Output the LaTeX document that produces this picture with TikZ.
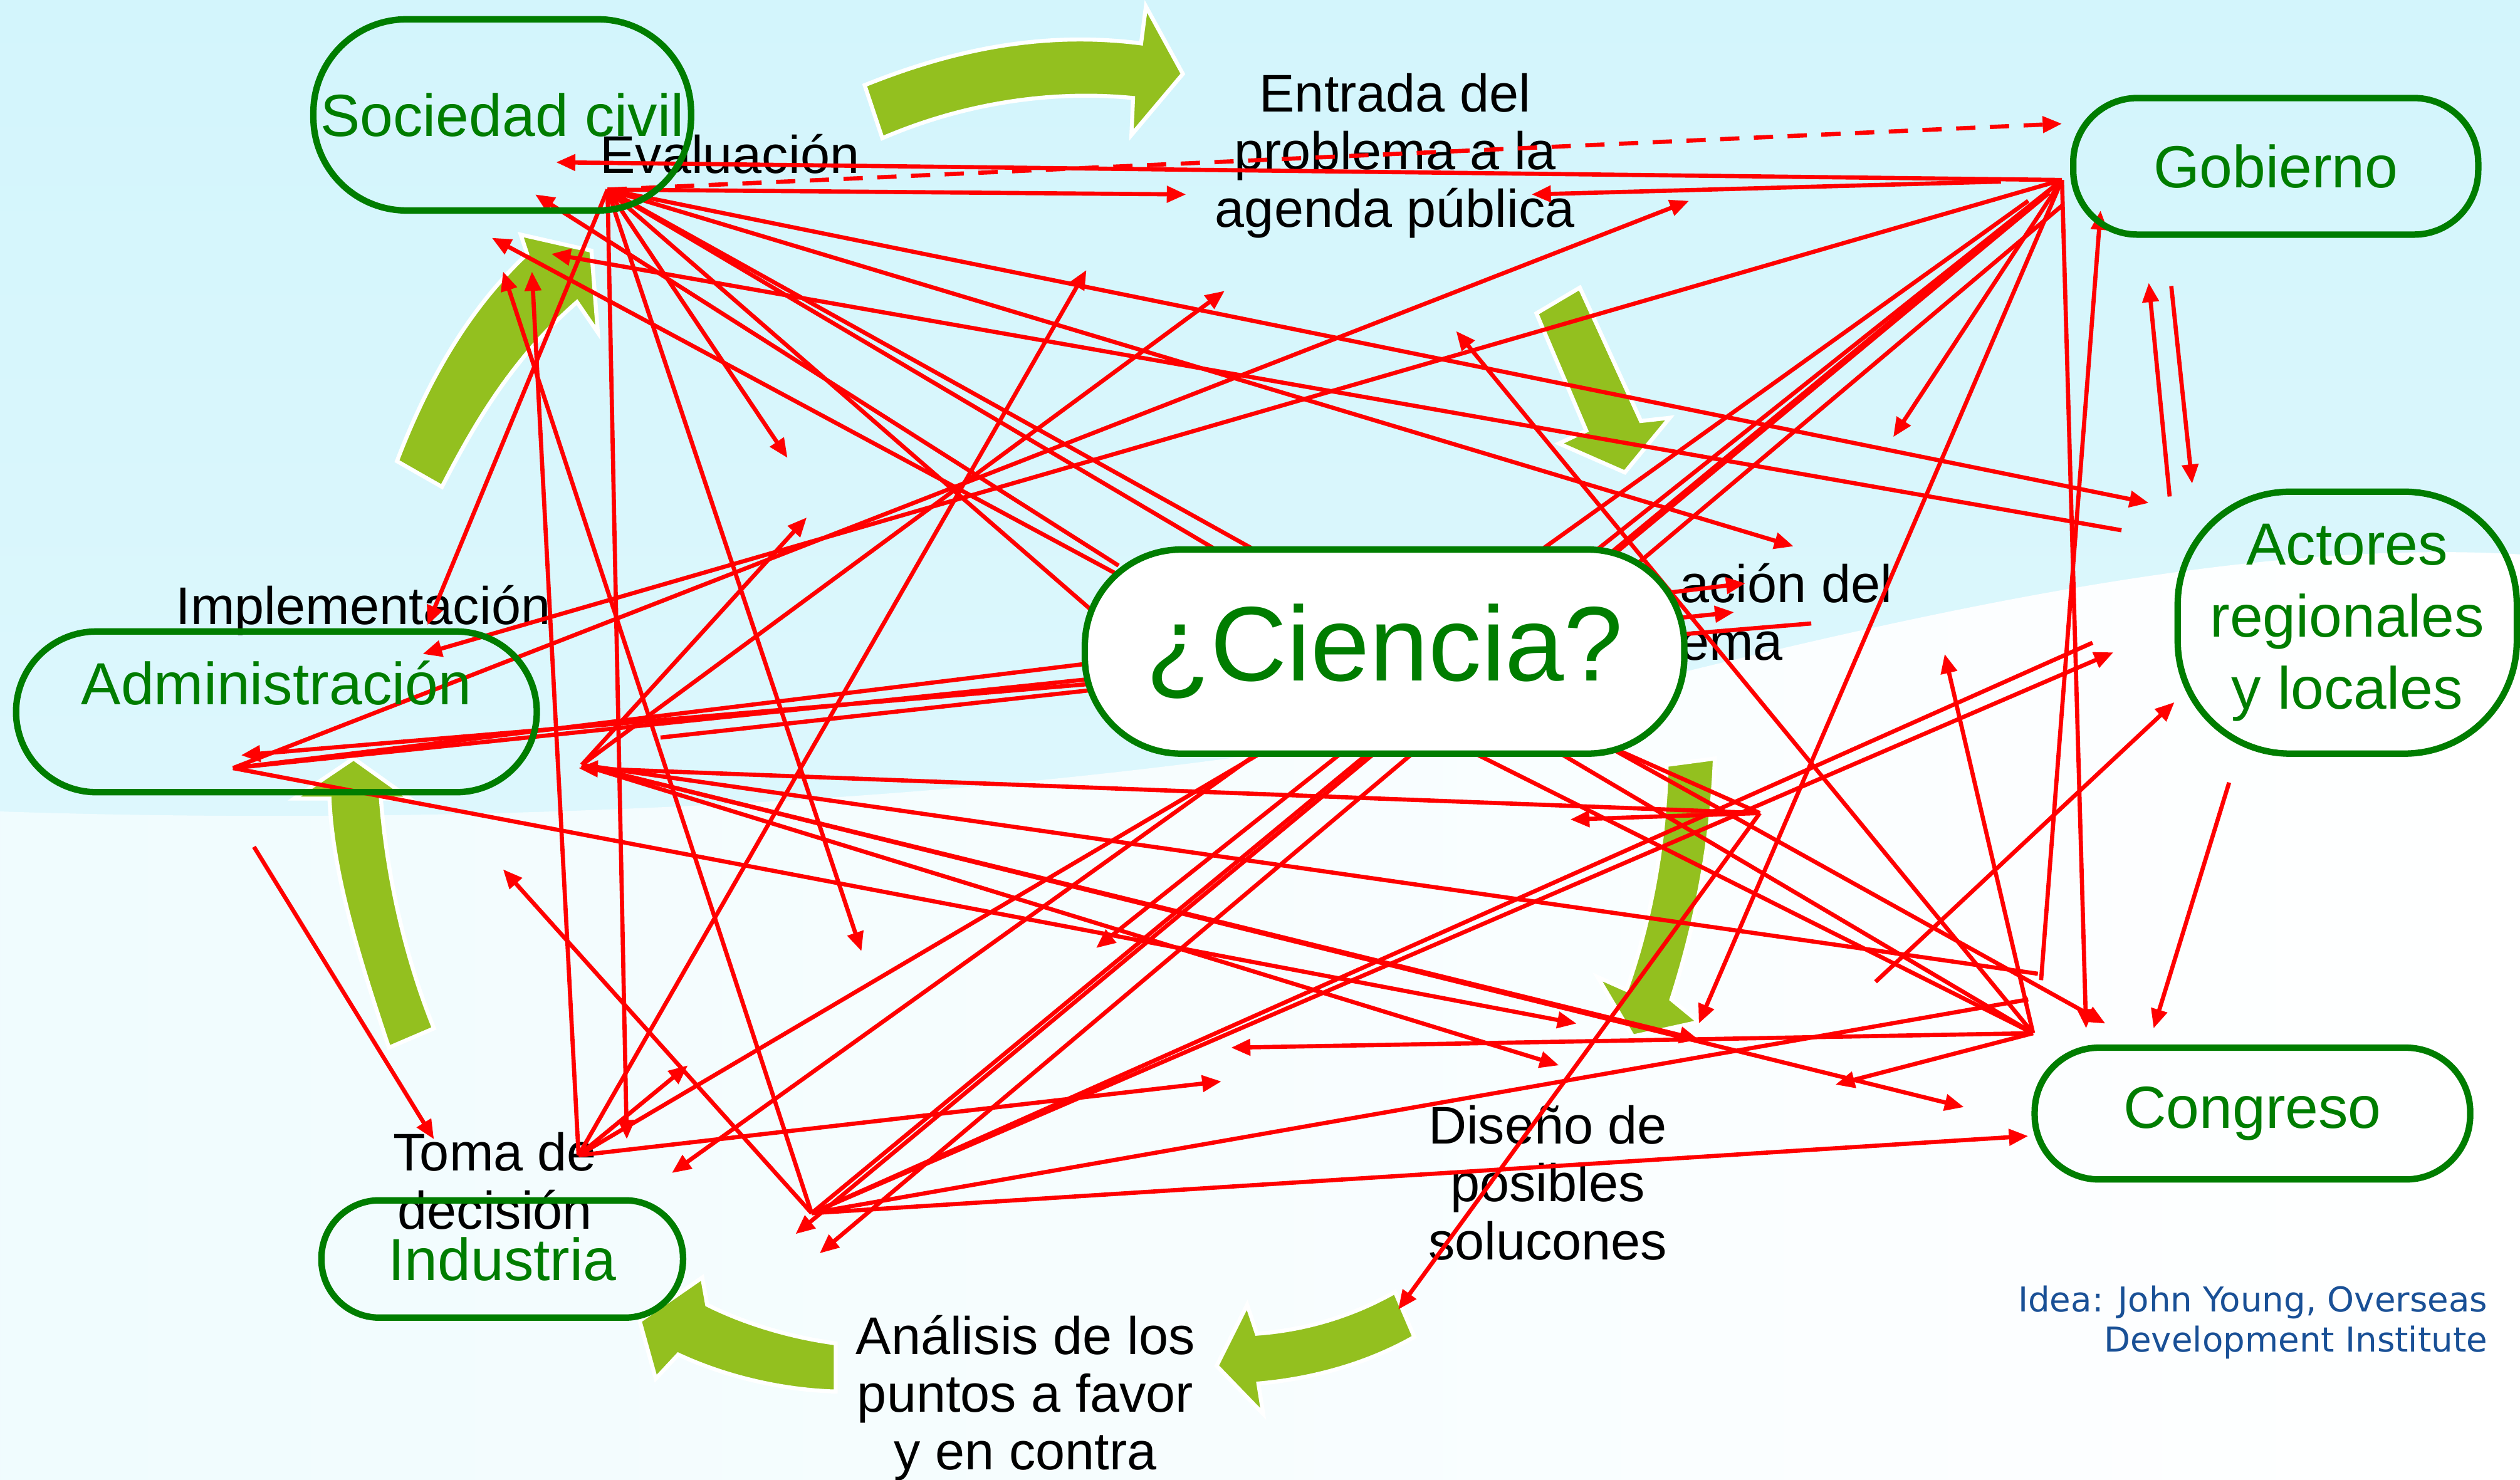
\documentclass[tikz,border=0pt]{standalone}
\usepackage{fontspec}
\setmainfont{Liberation Sans}
\newfontfamily\creditfont{DejaVu Sans}
\usepackage{xcolor}
\usepackage{tikz}
\usetikzlibrary{shapes,arrows,arrows.meta}
\usetikzlibrary{positioning}
\definecolor{actorgreen}{RGB}{0,125,0}
\definecolor{leaf}{RGB}{147,192,31}
\definecolor{sky}{RGB}{211,245,252}
\definecolor{creditblue}{RGB}{25,80,150}
\tikzstyle{actor} = [draw=actorgreen, line width=4pt, text=actorgreen,
                     inner sep=0pt, align=center, font=\fontsize{37}{45}\selectfont]
\tikzstyle{stage} = [align=center, inner sep=0pt, font=\fontsize{33}{36}\selectfont]
\tikzstyle{cyclearrow} = [fill=leaf, draw=white, line width=2.5pt]
\tikzstyle{link} = [draw=red, line width=2.6pt, -{Triangle[length=12pt,width=10pt]}]
\tikzstyle{bare} = [draw=red, line width=2.6pt]

\begin{document}
\begin{tikzpicture}[x=1pt, y=-1pt]
  \useasboundingbox (0,0) rectangle (1568,921);
  % Background
  \shade[top color=sky, bottom color=sky!60!white] (0,0) rectangle (1568,921);
  \shade[left color=sky!35!white, right color=white] (0,505) .. controls (300,515) and (700,500) .. (1000,430)
     .. controls (1200,380) and (1400,335) .. (1568,345) -- (1568,921) -- (0,921) -- cycle;
  % Policy cycle arrows
  \draw[cyclearrow] (538,53) .. controls (600,28) and (655,20) .. (710,27) -- (713,4) -- (736,46) -- (704,84)
     -- (705,61) .. controls (655,56) and (600,64) .. (549,86) -- cycle;
  \draw[cyclearrow] (956,195) -- (983,179) -- (1021,262) -- (1039,260) -- (1011,294) -- (970,276) -- (987,268) -- cycle;
  \draw[cyclearrow] (1037,476) .. controls (1036,530) and (1025,580) .. (1012,616) -- (994,608) -- (1016,645)
     -- (1057,636) -- (1040,622) .. controls (1055,575) and (1065,525) .. (1067,472) -- cycle;
  \draw[cyclearrow] (868,804) .. controls (840,820) and (810,828) .. (782,830) -- (776,812) -- (757,850) -- (786,880)
     -- (783,861) .. controls (818,858) and (852,848) .. (880,832) -- cycle;
  \draw[cyclearrow] (520,836) .. controls (490,832) and (462,823) .. (440,812) -- (437,795) -- (398,822) -- (408,858)
     -- (422,843) .. controls (452,857) and (487,865) .. (520,866) -- cycle;
  \draw[cyclearrow] (242,652) .. controls (222,592) and (207,542) .. (205,497) -- (183,497) -- (220,472) -- (255,497)
     -- (237,497) .. controls (241,548) and (253,598) .. (270,640) -- cycle;
  \draw[cyclearrow] (247,287) .. controls (268,232) and (294,190) .. (328,158) -- (324,146) -- (368,156) -- (372,207)
     -- (359,188) .. controls (320,222) and (296,262) .. (275,303) -- cycle;
  % Stages
  \node[stage] (entrada) at (868,97) {Entrada del\\problema a la\\agenda pública};
  \node[stage] (evaluacion) at (454,96) {Evaluación};
  \node[stage] (implementacion) at (226,380) {Implementación};
  \node[stage, align=left, anchor=west] (definicion) at (1045,381) {ación del\\ema};
  \node[stage] (toma) at (308,735) {Toma de\\decisión};
  \node[stage] (analisis) at (638,870) {Análisis de los\\puntos a favor\\y en contra};
  \node[stage] (diseno) at (963,736) {Diseño de\\posibles\\solucones};
  % Hubs
  \coordinate (A) at (378,118);
  \coordinate (G) at (1283,112);
  \coordinate (G2) at (1262,125);
  \coordinate (G3) at (1275,120);
  \coordinate (G4) at (1283,128);
  \coordinate (T) at (360,719);
  \coordinate (N) at (505,755);
  \coordinate (M) at (145,478);
  \coordinate (R) at (362,476);
  \coordinate (Q) at (411,459);
  \coordinate (C) at (1265,643);
  \coordinate (D) at (1095,506);
  % Links from hubs
  \foreach \s/\t/\x/\y in {A/a1/738/121, A/a2/490/285, A/a3/1337/313, A/a4/1116/340, A/a5/266/389,
      A/a6/536/592, A/a7/390/709, A/a8/1310/637,
      G/g1/346/101, G/g2/263/407, G/g3/1178/272, G/g4/1057/637, G/g5/1298/640, G/g6/682/590,
      G2/g8/418/730, G3/g9/495/768, G4/g10/510/780,
      M/m1/1051/125, M/m2/981/637, M/m3/1086/363, M/m4/1079/381,
      R/r1/762/181, R/r2/1057/647, R/r3/1222/689, R/r4/970/663, R/r5/502/322,
      T/t1/331/169, T/t2/676/168, T/t3/760/673, T/t4/428/663,
      N/n1/313/541, N/n2/1262/707, N/n3/1315/406, N/n4/313/169,
      C/c1/906/206, C/c2/1142/675, C/c3/766/652, C/c4/1210/407,
      D/d1/977/510, D/d2/870/815, D/d3/360/478}
    {\coordinate (\t) at (\x,\y);
     \draw[link] (\s) -- (\t);}
  % Links between free ends
  \foreach \xa/\ya/\xb/\yb [count=\i] in {696/352/333/121, 700/360/306/148, 1320/330/343/158,
      1127/388/150/470, 1245/113/953/121, 1270/610/1307/131, 1167/611/1353/437,
      1387/487/1340/640, 1350/309/1337/176, 1351/178/1364/301, 158/527/270/709}
    {\coordinate (s\i) at (\xa,\ya);
     \coordinate (e\i) at (\xb,\yb);
     \draw[link] (s\i) -- (e\i);}
  % Plain lines
  \foreach \s/\t/\x/\y in {A/p1/760/450, T/p2/850/430, N/p3/1302/400, N/p4/1262/622,
      R/p5/1268/606, C/p6/900/460, D/p7/980/455, Q/p8/720/425}
    {\coordinate (\t) at (\x,\y);
     \draw[bare] (\s) -- (\t);}
  \draw[bare] (A) -- (C);
  \draw[bare] (N) -- (G);
  \coordinate (gdash) at (1283,77);
  \draw[link, dash pattern=on 12pt off 9pt] (A) -- (gdash);
  % Actors
  \node[actor, minimum width=235pt, minimum height=119pt, rounded corners=58pt] (sociedad) at (312.5,71.5) {Sociedad civil};
  \node[actor, minimum width=252pt, minimum height=85pt, rounded corners=40pt] (gobierno) at (1416,103.5) {Gobierno};
  \node[actor, minimum width=211pt, minimum height=163pt, rounded corners=70pt] (actores) at (1460.5,387.5) {Actores\\regionales\\y locales};
  \node[actor, fill=white, minimum width=373pt, minimum height=127pt, rounded corners=60pt,
        font=\fontsize{66}{70}\selectfont] (ciencia) at (861.5,405.5) {¿Ciencia?};
  \node[actor, minimum width=324pt, minimum height=100pt, rounded corners=50pt, text depth=36pt] (administracion) at (172,443) {Administración};
  \node[actor, minimum width=271pt, minimum height=82pt, rounded corners=40pt] (congreso) at (1401.5,693) {Congreso};
  \node[actor, minimum width=225pt, minimum height=73pt, rounded corners=36pt] (industria) at (312.5,783.5) {Industria};
  % Credit
  \node[align=right, anchor=east, inner sep=0pt, text=creditblue, font=\creditfont\fontsize{21.3}{25}\selectfont]
    (credito) at (1548,823) {Idea: John Young, Overseas\\Development Institute};
\end{tikzpicture}
\end{document}
